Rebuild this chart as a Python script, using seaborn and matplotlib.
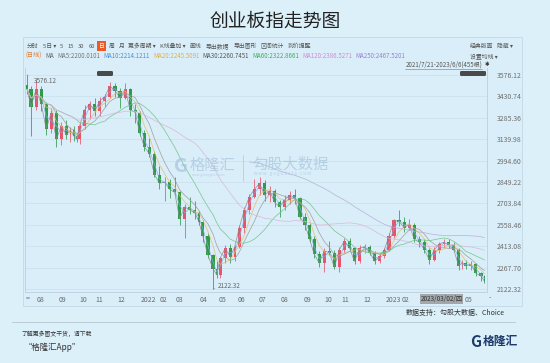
"""
Gráfico de velas semanais do índice ChiNext (创业板指) com médias móveis.
Valores lidos do gráfico original (2021/7/21 a 2023/6/6, 455 pregões).
"""

import matplotlib
matplotlib.use("Agg")   # renderiza sem abrir janela
import matplotlib.pyplot as plt
from matplotlib.patches import Rectangle, FancyBboxPatch
from matplotlib.lines import Line2D
from matplotlib.transforms import ScaledTranslation
import numpy as np
import pandas as pd
import seaborn as sns

LARGURA, ALTURA = 550, 363

INICIO, FIM = "2021-07-21", "2023-06-06"

# Dias úteis sem pregão (feriados chineses) dentro do intervalo
FERIADOS = [
    "2021-09-20", "2021-09-21", "2021-10-01", "2021-10-04", "2021-10-05",
    "2021-10-06", "2021-10-07",
    "2022-01-03", "2022-01-31", "2022-02-01", "2022-02-02", "2022-02-03",
    "2022-02-04", "2022-04-04", "2022-04-05", "2022-05-02", "2022-05-03",
    "2022-05-04", "2022-06-03", "2022-09-12", "2022-10-03", "2022-10-04",
    "2022-10-05", "2022-10-06", "2022-10-07",
    "2023-01-02", "2023-01-23", "2023-01-24", "2023-01-25", "2023-01-26",
    "2023-01-27", "2023-04-05", "2023-05-01", "2023-05-02", "2023-05-03",
]

# Velas semanais (uma por semana com pregão)
ABERTURA = [
    3510, 3480, 3360, 3480, 3380, 3210, 3320, 3140, 3230, 3170, 3200, 3160,
    3140, 3230, 3340, 3380, 3330, 3400, 3430, 3500, 3470, 3420, 3480, 3340,
    3320, 3180, 3090, 3040, 2900, 2840, 2850, 2800, 2780, 2600, 2680, 2660,
    2640, 2580, 2480, 2350, 2260, 2220, 2330, 2400, 2340, 2410, 2540, 2660,
    2750, 2800, 2840, 2760, 2790, 2710, 2680, 2730, 2760, 2740, 2610, 2560,
    2460, 2360, 2300, 2380, 2370, 2270, 2390, 2450, 2400, 2310, 2400, 2410,
    2370, 2310, 2347, 2390, 2480, 2590, 2580, 2540, 2560, 2460, 2440, 2390,
    2320, 2390, 2430, 2440, 2420, 2390, 2280, 2300, 2280, 2290, 2230, 2210,
]
MAXIMA = [
    3576.12, 3500, 3545, 3500, 3390, 3350, 3340, 3260, 3270, 3220, 3230, 3180,
    3250, 3370, 3400, 3420, 3430, 3450, 3530, 3520, 3490, 3520, 3490, 3380,
    3330, 3200, 3150, 3060, 2960, 2880, 2870, 2885, 2790, 2700, 2750, 2720,
    2650, 2590, 2500, 2360, 2310, 2340, 2420, 2430, 2420, 2560, 2680, 2770,
    2870, 2880, 2860, 2820, 2800, 2730, 2760, 2790, 2800, 2750, 2640, 2570,
    2480, 2380, 2400, 2450, 2390, 2410, 2470, 2470, 2410, 2420, 2430, 2420,
    2380, 2370, 2400, 2500, 2600, 2660, 2610, 2600, 2570, 2480, 2460, 2400,
    2410, 2440, 2460, 2460, 2440, 2400, 2320, 2320, 2310, 2300, 2240, 2220,
]
MINIMA = [
    3450, 3160, 3340, 3330, 3170, 3180, 3090, 3100, 3140, 3120, 3130, 3120,
    3110, 3210, 3280, 3300, 3300, 3360, 3420, 3430, 3350, 3410, 3300, 3250,
    3160, 3060, 3020, 2880, 2800, 2720, 2740, 2760, 2560, 2470, 2630, 2600,
    2560, 2440, 2330, 2122.32, 2200, 2200, 2300, 2300, 2310, 2400, 2500, 2630,
    2740, 2760, 2720, 2710, 2680, 2610, 2660, 2700, 2700, 2600, 2520, 2440,
    2330, 2270, 2240, 2350, 2260, 2240, 2370, 2380, 2290, 2300, 2370, 2350,
    2290, 2300, 2330, 2380, 2470, 2550, 2510, 2520, 2440, 2410, 2370, 2290,
    2310, 2370, 2410, 2400, 2380, 2250, 2260, 2260, 2250, 2210, 2180, 2163,
]
FECHAMENTO = [
    3480, 3360, 3480, 3380, 3210, 3320, 3140, 3230, 3170, 3200, 3160, 3140,
    3230, 3340, 3380, 3330, 3400, 3430, 3500, 3470, 3420, 3480, 3340, 3322,
    3180, 3090, 3040, 2900, 2840, 2850, 2800, 2780, 2600, 2680, 2660, 2640,
    2580, 2480, 2350, 2260, 2220, 2330, 2400, 2340, 2410, 2540, 2660, 2750,
    2800, 2840, 2760, 2790, 2710, 2680, 2730, 2760, 2740, 2610, 2560, 2460,
    2360, 2300, 2380, 2370, 2270, 2390, 2450, 2400, 2310, 2400, 2410, 2370,
    2310, 2347, 2390, 2480, 2590, 2580, 2540, 2560, 2460, 2440, 2390, 2320,
    2390, 2430, 2440, 2420, 2390, 2280, 2300, 2280, 2290, 2230, 2210, 2175,
]

MEDIAS = ["MA5", "MA10", "MA20", "MA30", "MA60", "MA120", "MA250"]
MEDIAS_DIAS = [5, 10, 20, 30, 60, 120, 250]
MEDIAS_VALOR = ["2200.0101", "2214.1211", "2245.5091", "2260.7451",
                "2322.8661", "2386.5271", "2467.5201"]
CORES_TEXTO = ["#777777", "#4a8fd4", "#e6ad45", "#555555",
               "#3fae5a", "#d08ad0", "#9a80d0"]
CORES_LINHA = ["#8a8a8a", "#7ab0e2", "#e9bb62", "#9a9a9a",
               "#6cc482", "#ddb2d8", "#b9aad9"]

BARRA = ["分时", "5日 ▾", "5", "15", "30", "60", "日", "周", "月", "更多周期 ▾",
         "K线叠加 ▾", "画线", "导出数据", "导出图形", "区间统计", "到价提醒"]

FUNDO = "#dcf0fa"
PAINEL = "#d9eef8"
VERMELHO = "#e9546b"
VERDE = "#2f9a48"

# ---------------------------------------------------------------- dados
dias = pd.bdate_range(INICIO, FIM)
dias = dias[~dias.isin(pd.to_datetime(FERIADOS))]
cal = pd.DataFrame({"data": dias, "idx": np.arange(len(dias))})
cal["semana"] = cal["data"].dt.to_period("W")
sem = cal.groupby("semana")["idx"].agg(["mean", "count"]).reset_index()

df = pd.DataFrame({
    "x": sem["mean"].values,
    "n": sem["count"].values,
    "abertura": ABERTURA,
    "maxima": MAXIMA,
    "minima": MINIMA,
    "fechamento": FECHAMENTO,
})

# médias móveis em semanas (5 pregões por semana)
linhas = []
for nome, d in zip(MEDIAS, MEDIAS_DIAS):
    janela = max(1, round(d / 5))
    minp = 48 if d == 250 else 1   # MA250 só aparece quando há histórico
    serie = df["fechamento"].rolling(janela, min_periods=minp).mean()
    linhas.append(pd.DataFrame({"x": df["x"], "valor": serie, "ma": nome}))
ma_long = pd.concat(linhas).dropna()

# ---------------------------------------------------------------- figura
sns.set_theme(style="white")
plt.rcParams["font.family"] = ["Noto Sans CJK SC", "DejaVu Sans"]

fig = plt.figure(figsize=(LARGURA / 100, ALTURA / 100), dpi=100, facecolor=FUNDO)
renderer = fig.canvas.get_renderer()


def fx(x):
    return x / LARGURA


def fy(y):
    return 1 - y / ALTURA


def texto(x, y, s, **kw):
    kw.setdefault("va", "center")
    kw.setdefault("fontsize", 4.6)
    kw.setdefault("color", "#555555")
    return fig.text(fx(x), fy(y), s, **kw)


def em_linha(x, y, itens, gap, **kw):
    """Escreve textos lado a lado, medindo a largura de cada um."""
    objs = []
    for s, cor in itens:
        t = texto(x, y, s, color=cor, **kw)
        objs.append((t, x))
        x += t.get_window_extent(renderer).width + gap
    return objs


# painel do gráfico
fig.patches.append(Rectangle((fx(23), fy(306)), (522 - 23) / LARGURA,
                             (306 - 37) / ALTURA, transform=fig.transFigure,
                             facecolor=PAINEL, edgecolor="#c2d9e6", lw=0.6, zorder=-1))

texto(275, 21, "创业板指走势图", ha="center", fontsize=13.5, color="#222222")

# barra de ferramentas
for t, x in em_linha(27, 46, [(s, "#555555") for s in BARRA], 4.0, fontsize=4.2):
    if t.get_text() == "日":
        t.set_color("white")
        w = t.get_window_extent(renderer).width
        fig.patches.append(Rectangle((fx(x - 1.5), fy(51)), (w + 3) / LARGURA, 10 / ALTURA,
                                     transform=fig.transFigure, facecolor="#ee5a24",
                                     edgecolor="none", zorder=-0.5))
texto(470, 46, "经典版面", fontsize=4.2)
texto(497, 46, "隐藏 ▾", fontsize=4.2)

# linha das médias
itens_ma = [("(日线)", "#e07b39"), ("MA", "#666666")]
itens_ma += [(f"{n}:{v}", c) for n, v, c in zip(MEDIAS, MEDIAS_VALOR, CORES_TEXTO)]
em_linha(26, 56, itens_ma, 3.2, fontsize=4.4)
texto(470, 56, "设置均线 ▾", fontsize=4.2)
rotulo_periodo = (f"{dias[0].year}/{dias[0].month}/{dias[0].day}-"
                  f"{dias[-1].year}/{dias[-1].month}/{dias[-1].day}({len(dias)}根)")
tp = texto(482, 65, rotulo_periodo, ha="right", fontsize=4.4)
wp = tp.get_window_extent(renderer).width
fig.add_artist(Line2D([fx(482 - wp), fx(482)], [fy(69), fy(69)], color="#777777", lw=0.4))
texto(485, 64, "✱", fontsize=4, color="#333333")

for x0, x1 in [(97, 113), (460, 486)]:
    fig.patches.append(FancyBboxPatch((fx(x0), fy(76)), (x1 - x0) / LARGURA, 5 / ALTURA,
                                      boxstyle="round,pad=0,rounding_size=0.003",
                                      transform=fig.transFigure, facecolor="#4a4a4a",
                                      edgecolor="none", zorder=5))

# ---------------------------------------------------------------- eixo de preços
ax = fig.add_axes([fx(25), fy(292), (487 - 25) / LARGURA, (292 - 68) / ALTURA])
ax.set_facecolor(PAINEL)

lo, hi = df["minima"].min(), df["maxima"].max()
amp = hi - lo
ax.set_ylim(lo - amp * 3 / 214, hi + amp * 7 / 214)
ax.set_xlim(-1, len(dias) + 1)
yticks = np.linspace(lo, hi, 11)
ax.set_yticks(yticks)
ax.set_yticklabels([f"{v:.2f}" for v in yticks])
ax.yaxis.tick_right()
ax.tick_params(axis="y", length=0, pad=7, labelsize=5, labelcolor="#6f6f6f")
ax.grid(axis="y", color="#cbe2ee", lw=0.6)
ax.set_axisbelow(True)

# velas
sobe = df["fechamento"] >= df["abertura"]
cores = np.where(sobe, VERMELHO, VERDE)
ax.vlines(df["x"], df["minima"], df["maxima"], colors=cores, lw=0.55, zorder=2)
base = np.minimum(df["abertura"], df["fechamento"])
altura = np.maximum((df["fechamento"] - df["abertura"]).abs(), 4)
ax.bar(df["x"], altura, bottom=base, width=df["n"] * 0.62, color=cores,
       edgecolor="none", zorder=3)

# médias móveis
sns.lineplot(data=ma_long, x="x", y="valor", hue="ma", hue_order=MEDIAS,
             palette=dict(zip(MEDIAS, CORES_LINHA)), ax=ax, legend=False,
             linewidth=0.55, alpha=0.85, zorder=4)
ax.set_xlabel("")
ax.set_ylabel("")

# máximo e mínimo do período
i_hi, i_lo = df["maxima"].idxmax(), df["minima"].idxmin()
ax.annotate(f"{hi:.2f}", xy=(df.loc[i_hi, "x"], hi), xytext=(7, -6),
            textcoords="offset pixels", fontsize=4.6, color="#666666", va="center",
            arrowprops=dict(arrowstyle="-", color="#888888", lw=0.5))
ax.annotate(f"{lo:.2f}", xy=(df.loc[i_lo, "x"], lo), xytext=(5, 3),
            textcoords="offset pixels", fontsize=4.6, color="#666666", va="center",
            arrowprops=dict(arrowstyle="-", color="#888888", lw=0.5))

# meses no eixo x (os que ficam sob o cursor de data não aparecem)
primeiro = cal.groupby(cal["data"].dt.to_period("M"))["idx"].min()
primeiro = primeiro[(primeiro > 0) & (primeiro < len(dias) - 10)]
cursor = cal.loc[cal["data"] == "2023-03-02", "idx"].iloc[0]
primeiro = primeiro[(primeiro < cursor - 2) | (primeiro > cursor + 25)]
rotulos = [str(p.year) if p.month == 1 else f"{p.month:02d}" for p in primeiro.index]
ax.set_xticks(primeiro.values)
ax.set_xticklabels(rotulos, ha="left")
ax.tick_params(axis="x", length=0, pad=3, labelsize=5, labelcolor="#6a6a6a")
desloc = ScaledTranslation(2.5 / 100, 0, fig.dpi_scale_trans)
for lab in ax.get_xticklabels():
    lab.set_transform(lab.get_transform() + desloc)

ax.spines["top"].set_visible(False)
for lado in ["left", "right", "bottom"]:
    ax.spines[lado].set_color("#b9d0de")
    ax.spines[lado].set_linewidth(0.6)

# cursor de data e marcadores do eixo x
fig.patches.append(Rectangle((fx(420), fy(303.5)), 43 / LARGURA, 10 / ALTURA,
                             transform=fig.transFigure, facecolor="#a3a7aa",
                             edgecolor="none", zorder=6))
texto(441.5, 298.5, "2023/03/02/四", ha="center", fontsize=4.6, color="#333333", zorder=7)
texto(26, 298, "=", fontsize=5, color="#666666")
texto(489, 298, "-", fontsize=5, color="#666666")

# marca d'água
wm = dict(color="#a3c0da", alpha=0.65, zorder=8)
texto(181, 167, "G", fontsize=14, fontweight="bold", ha="center", **wm)
texto(190, 165, "格隆汇", fontsize=11, **wm)
texto(192, 175, "www.gelonghui.com", fontsize=2.5, **wm)
fig.add_artist(Line2D([fx(243), fx(243)], [fy(155), fy(181)], color="#b5cde0", lw=0.6))
texto(252, 164, "勾股大数据", fontsize=11, **wm)
texto(254, 174, "w w w . g o g u d a t a . c o m", fontsize=3.2, **wm)

# rodapé
texto(505, 313, "数据支持：勾股大数据、Choice", ha="right", fontsize=5, color="#333333")
fig.add_artist(Line2D([fx(12), fx(515)], [fy(322), fy(322)], color="#b5c4cc", lw=0.6))
texto(21, 334, "了解更多图文干货，请下载", fontsize=4.2, color="#333333", style="italic")
texto(24, 347, "“格隆汇App”", fontsize=6, color="#333333", style="italic")
texto(476, 342, "G", fontsize=11, fontweight="bold", ha="center", color="#1d3a6b")
texto(483, 341, "格隆汇", fontsize=8.5, fontweight="bold", color="#1d3a6b")

fig.savefig("out.png", dpi=100, facecolor=FUNDO)
plt.close(fig)
